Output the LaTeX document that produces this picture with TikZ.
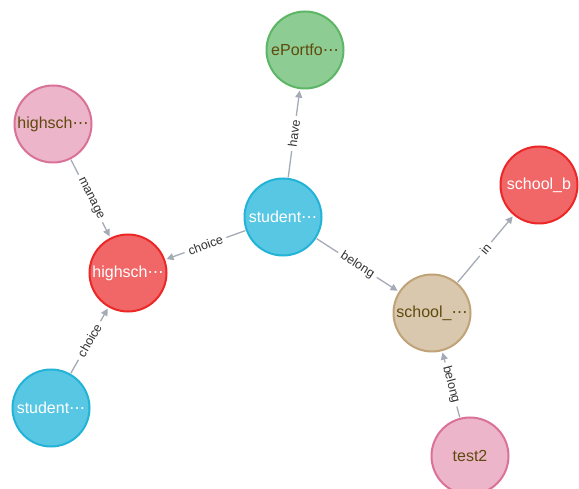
\documentclass[tikz,border=0pt]{standalone}
\usepackage{fontspec}
\setmainfont{Liberation Sans}
\newfontfamily\dvfont{DejaVu Sans}
\usetikzlibrary{arrows.meta}
\definecolor{gfill}{HTML}{8DCC93}\definecolor{gdraw}{HTML}{5DB665}
\definecolor{pfill}{HTML}{ECB5C9}\definecolor{pdraw}{HTML}{DA7298}
\definecolor{rfill}{HTML}{F16667}\definecolor{rdraw}{HTML}{EB2728}
\definecolor{bfill}{HTML}{57C7E3}\definecolor{bdraw}{HTML}{23B3D7}
\definecolor{tfill}{HTML}{D9C8AE}\definecolor{tdraw}{HTML}{C0A378}
\definecolor{darktxt}{HTML}{604A0E}
\definecolor{edgec}{HTML}{A5ABB6}
\definecolor{labc}{HTML}{333333}
\newcommand{\myell}{{\dvfont\char"22EF}}
\begin{document}
\begin{tikzpicture}[x=1pt,y=-1pt,
  nd/.style={circle,minimum size=77pt,inner sep=0pt,line width=2pt,font=\fontsize{16}{16}\selectfont},
  gnode/.style={nd,fill=gfill,draw=gdraw,text=darktxt},
  pnode/.style={nd,fill=pfill,draw=pdraw,text=darktxt},
  rnode/.style={nd,fill=rfill,draw=rdraw,text=white},
  bnode/.style={nd,fill=bfill,draw=bdraw,text=white},
  tnode/.style={nd,fill=tfill,draw=tdraw,text=darktxt},
  rel/.style={draw=edgec,line width=1.3pt,-{Triangle[length=7pt,width=7pt]},shorten >=1.5pt,shorten <=0.5pt},
  lab/.style={midway,sloped,fill=white,inner xsep=4pt,inner ysep=0.5pt,text=labc,font=\fontsize{12.5}{12.5}\selectfont}]
\useasboundingbox (0,0) rectangle (579,489);
\fill[white] (0,0) rectangle (579,489);
\node[gnode] (ep) at (305,50) {ePortfo\myell};
\node[pnode] (hp) at (53,124) {highsch\myell};
\node[bnode] (sc) at (283,217) {student\myell};
\node[rnode] (sb) at (539,185) {school\_b};
\node[rnode] (hr) at (128,273) {highsch\myell};
\node[tnode] (st) at (432,313) {school\_\myell};
\node[bnode] (sl) at (51,408) {student\myell};
\node[pnode] (t2) at (470,456) {test2};
\draw[rel] (sc) -- node[lab] {have} (ep);
\draw[rel] (hp) -- node[lab] {manage} (hr);
\draw[rel] (sc) -- node[lab] {choice} (hr);
\draw[rel] (sl) -- node[lab] {choice} (hr);
\draw[rel] (sc) -- node[lab] {belong} (st);
\draw[rel] (st) -- node[lab] {in} (sb);
\draw[rel] (t2) -- node[lab] {belong} (st);
\end{tikzpicture}
\end{document}
